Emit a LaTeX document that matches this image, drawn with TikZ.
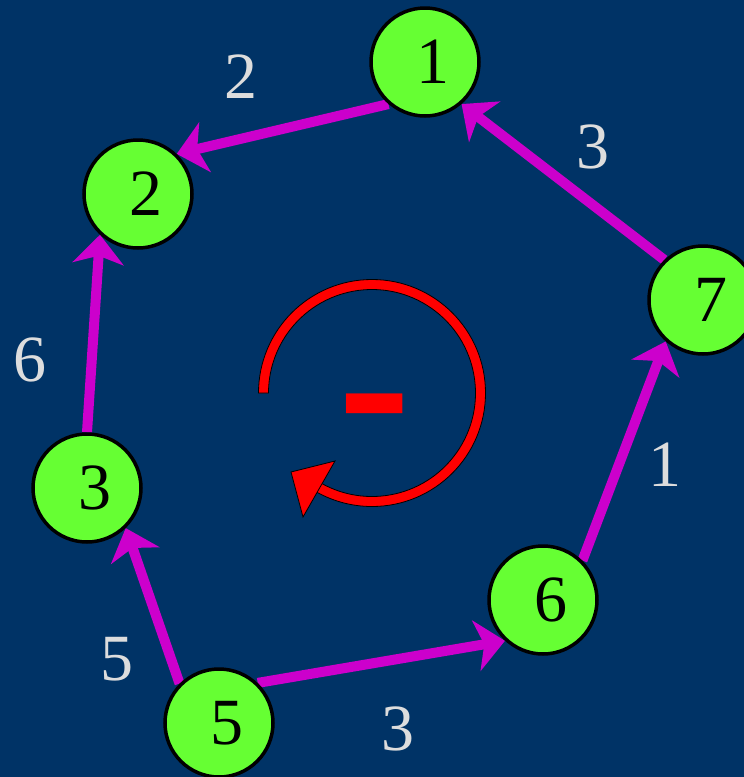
\documentclass[tikz,border=0pt]{standalone}
\usepackage{graphicx}
\usepackage{fontspec}
\setmainfont{Liberation Serif}
\usetikzlibrary{arrows.meta}
\definecolor{bg}{RGB}{0,51,102}
\definecolor{nodegreen}{RGB}{102,255,51}
\definecolor{edgemag}{RGB}{204,0,204}
\definecolor{lblgray}{RGB}{221,221,221}
\pgfdeclarelayer{background}
\pgfdeclarelayer{edges}
\pgfsetlayers{background,edges,main}
\begin{document}
\begin{tikzpicture}[x=1pt,y=1pt,
  vert/.style={circle, draw=black, line width=3.5pt, fill=nodegreen, minimum size=108pt, inner sep=0pt, font=\fontsize{66}{66}\selectfont, text=black},
  edge/.style={draw=edgemag, line width=10pt, -{Stealth[length=29pt,width=51pt,inset=8pt]}},
  lbl/.style={text=lblgray, font=\fontsize{66}{66}\selectfont, inner sep=0pt}]
\useasboundingbox (0,0) rectangle (744,-777);
\begin{pgfonlayer}{background}
\fill[bg] (0,0) rectangle (744,-777);
\end{pgfonlayer}
% vertices
\node[vert] (n1) at (425,-62) {\hspace*{16pt}1};
\node[vert] (n2) at (138,-194) {\hspace*{16pt}2};
\node[vert] (n3) at (87,-488) {\hspace*{16pt}3};
\node[vert] (n5) at (219,-723) {\hspace*{16pt}5};
\node[vert] (n6) at (543,-600) {\hspace*{16pt}6};
\node[vert] (n7) at (703,-300) {\hspace*{16pt}7};
% edges
\begin{pgfonlayer}{edges}
\draw[edge] (n1.229) -- (n2.46);
\draw[edge] (n3.90) -- (n2.227);
\draw[edge] (n5.135) -- (n3.314);
\draw[edge] (n5.46) -- (n6.227);
\draw[edge] (n6.45) -- (n7.228);
\draw[edge] (n7.134) -- (n1.311);
\end{pgfonlayer}
% weights
\node[lbl] (w12) at (241,-77) {2};
\node[lbl] (w71) at (593,-147) {3};
\node[lbl] (w32) at (30,-360) {6};
\node[lbl] (w67) at (665,-465) {1};
\node[lbl] (w53) at (117,-659) {5};
\node[lbl] (w56) at (398,-729) {3};
% rotation arrow
\begin{scope}[shift={(372,-393)}]
\filldraw[fill=red, draw=black, line width=0.8pt]
  (180:113.5) arc[start angle=180, end angle=-125, radius=113.5]
  -- (-125:103.5) arc[start angle=-125, end angle=180, radius=103.5] -- cycle;
\filldraw[fill=red, draw=black, line width=0.8pt]
  (-81,-79) -- (-37,-68) -- (-69,-124) -- cycle;
\end{scope}
\node[anchor=base, inner sep=0pt, text=red, font=\fontsize{155}{155}\bfseries\selectfont] (minus) at (374.5,-458) {\scalebox{1.4}[1.5]{-}};
\end{tikzpicture}
\end{document}
